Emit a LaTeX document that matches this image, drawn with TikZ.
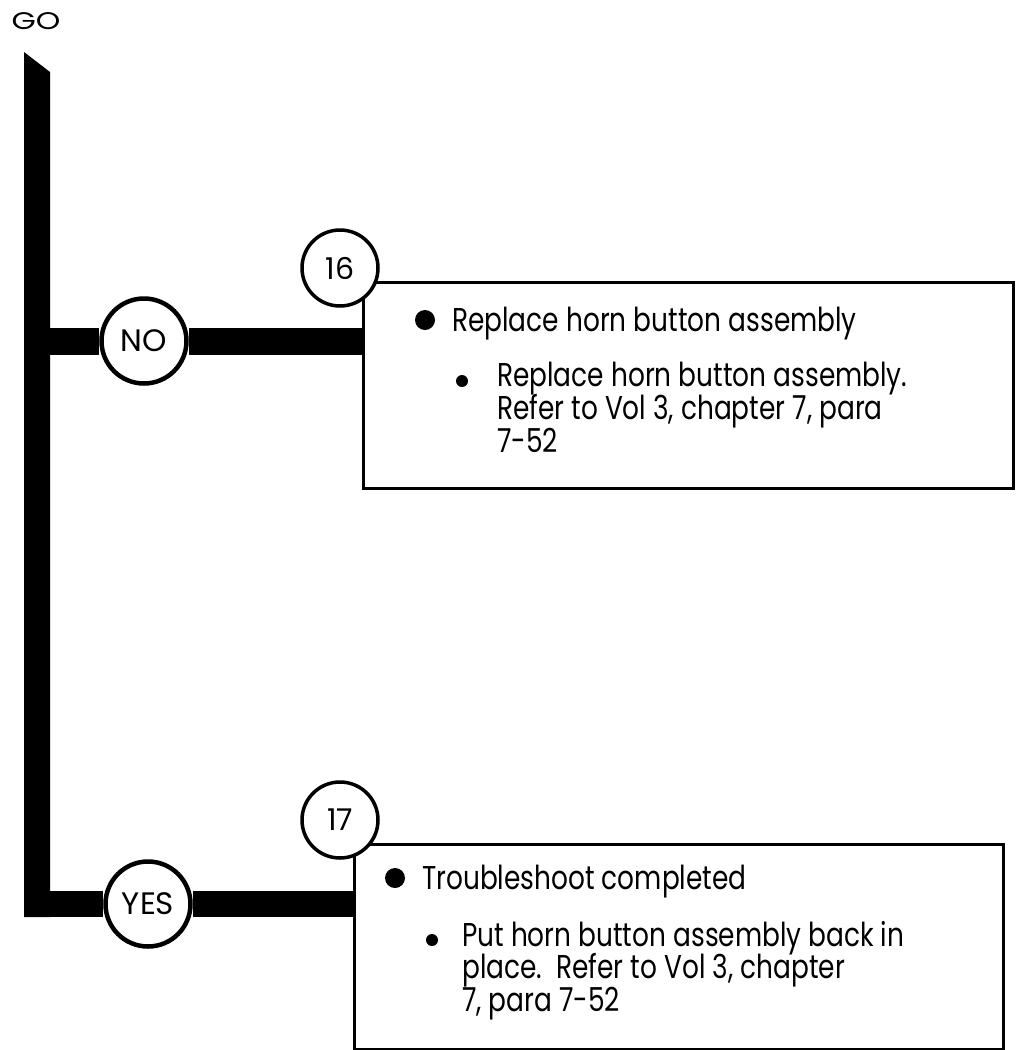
\documentclass[tikz,border=0pt]{standalone}
\usepackage{fontspec}
\setmainfont{Poppins}[FakeStretch=0.8]
\newfontfamily\lblfont{Poppins}
\begin{document}
\begin{tikzpicture}[x=1pt,y=-1pt,
  bar/.style={line width=27pt},
  choice/.style={circle, draw, line width=4.5pt, fill=white, minimum size=85pt, inner sep=0pt, font=\lblfont\fontsize{31}{32}\selectfont},
  stepnum/.style={circle, draw, line width=3.5pt, fill=white, minimum size=76pt, inner sep=0pt, font=\lblfont\fontsize{30}{30}\selectfont},
  actbox/.style={draw, line width=2.5pt, anchor=north west, inner sep=0pt},
  bigdot/.style={circle, fill, minimum size=20pt, inner sep=0pt},
  smalldot/.style={circle, fill, minimum size=12pt, inner sep=0pt},
  txt/.style={anchor=base west, inner sep=0pt, font=\fontsize{33}{34}\selectfont},
]
\useasboundingbox (0,0) rectangle (1019,1050);
% title
\node[font=\lblfont\fontsize{24}{25}\selectfont, inner sep=0pt] (go) at (36,21) {\scalebox{1.3}[1]{GO}};
% trunk
\fill (24,52) -- (50,72) -- (50,917) -- (24,917) -- cycle;
\coordinate (jno) at (37,341);
\coordinate (jyes) at (24,904);
% boxes
\node[actbox, minimum width=650pt, minimum height=206pt] (b16) at (362,281) {};
\node[actbox, minimum width=649pt, minimum height=205pt] (b17) at (353,843) {};
% branch circles
\node[choice] (no) at (144,341) {NO};
\node[choice] (yes) at (148,904) {YES};
\draw[bar] (jno) -- (no.west);
\draw[bar] (no.east) -- (no -| b16.west);
\draw[bar, line width=26pt] (jyes) -- (yes.west);
\draw[bar, line width=26pt] (yes.east) -- (yes -| b17.west);
% step numbers
\node[stepnum] (s16) at (340,268) {16};
\node[stepnum] (s17) at (340,820) {17};
% box 16 text
\node[bigdot] (d16a) at (425,320) {};
\node[txt] (t16a) at (452,331) {Replace horn button assembly};
\node[smalldot] (d16b) at (462,381) {};
\node[txt] (t16b) at (497,386) {Replace horn button assembly.};
\node[txt] (t16c) at (497,419) {Refer to Vol 3, chapter 7, para};
\node[txt] (t16d) at (497,452) {7-52};
% box 17 text
\node[bigdot] (d17a) at (395,878) {};
\node[txt] (t17a) at (422,889) {Troubleshoot completed};
\node[smalldot] (d17b) at (432,940) {};
\node[txt] (t17b) at (462,946) {Put horn button assembly back in};
\node[txt] (t17c) at (462,978.5) {place.\ \ Refer to Vol 3, chapter};
\node[txt] (t17d) at (462,1011) {7, para 7-52};
\end{tikzpicture}
\end{document}
